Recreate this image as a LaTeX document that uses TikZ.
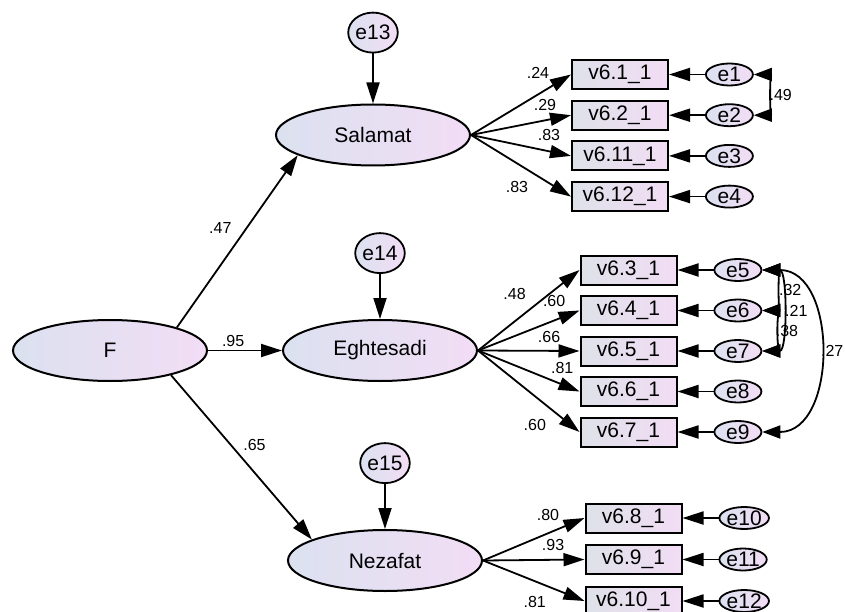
\documentclass[tikz,border=0pt]{standalone}
\usepackage{fontspec}
\setmainfont{Liberation Sans}
\usetikzlibrary{positioning,arrows.meta,shapes}

\definecolor{amosblue}{RGB}{219,225,240}
\definecolor{amospink}{RGB}{242,221,245}
\tikzstyle{latbox}=[ellipse, draw=black, line width=2pt, left color=amosblue, right color=amospink,
minimum width=194pt, minimum height=61pt, inner sep=0pt, font=\fontsize{21}{24}\selectfont]
\tikzstyle{resbox}=[ellipse, draw=black, line width=1.8pt, left color=amosblue, right color=amospink,
minimum width=47pt, minimum height=40pt, inner sep=0pt, font=\fontsize{21}{24}\selectfont]
\tikzstyle{ebox}=[ellipse, draw=black, line width=1.8pt, left color=amosblue, right color=amospink,
minimum width=47pt, minimum height=22pt, inner sep=0pt, font=\fontsize{21}{24}\selectfont]
\tikzstyle{obsbox}=[rectangle, draw=black, line width=2pt, left color=amosblue!80!gray!60, right color=amospink,
minimum width=96pt, minimum height=29pt, inner sep=0pt, font=\fontsize{21}{24}\selectfont]
\tikzstyle{load}=[-{Triangle[length=21pt,width=13pt]}, line width=1.8pt]
\tikzstyle{cov}=[{Triangle[length=18pt,width=13pt]}-{Triangle[length=18pt,width=13pt]}, line width=1.8pt]
\tikzstyle{lbl}=[inner sep=0pt, font=\fontsize{16}{18}\selectfont]

\begin{document}
\begin{tikzpicture}[x=1pt, y=-1pt]

    \useasboundingbox (0,0) rectangle (845,612);

    \node (F) [latbox] at (110,350.5) {F};
    \node (sal) [latbox] at (373,135) {Salamat};
    \node (egh) [latbox] at (380,350.5) {Eghtesadi};
    \node (nez) [latbox] at (385,560.5) {Nezafat};

    \node (e13) [resbox, above=50pt of sal] {e13};
    \node (e14) [resbox, above=45pt of egh] {e14};
    \node (e15) [resbox, above=45pt of nez] {e15};

% SALAMAT
    \node (v61) [obsbox] at (620,74.5) {v6.1\_1};
    \node (v62) [obsbox, below=9.7pt of v61] {v6.2\_1};
    \node (v611) [obsbox, below=9.7pt of v62] {v6.11\_1};
    \node (v612) [obsbox, below=9.7pt of v611] {v6.12\_1};
    \node (e1) [ebox, right=36pt of v61] {e1};
    \node (e2) [ebox, right=36pt of v62] {e2};
    \node (e3) [ebox, right=36pt of v611] {e3};
    \node (e4) [ebox, right=36pt of v612] {e4};
%%%% end SALAMAT

% EGHTESADI
    \node (v63) [obsbox] at (628.5,270) {v6.3\_1};
    \node (v64) [obsbox, below=9.5pt of v63] {v6.4\_1};
    \node (v65) [obsbox, below=9.5pt of v64] {v6.5\_1};
    \node (v66) [obsbox, below=9.5pt of v65] {v6.6\_1};
    \node (v67) [obsbox, below=9.5pt of v66] {v6.7\_1};
    \node (e5) [ebox, right=36pt of v63] {e5};
    \node (e6) [ebox, right=36pt of v64] {e6};
    \node (e7) [ebox, right=36pt of v65] {e7};
    \node (e8) [ebox, right=36pt of v66] {e8};
    \node (e9) [ebox, right=36pt of v67] {e9};
%%%% end EGHTESADI

% NEZAFAT
    \node (v68) [obsbox] at (633.5,518) {v6.8\_1};
    \node (v69) [obsbox, below=10.5pt of v68] {v6.9\_1};
    \node (v610) [obsbox, below=10.5pt of v69] {v6.10\_1};
    \node (e10) [ebox, right=36pt of v68] {e10};
    \node (e11) [ebox, right=36pt of v69] {e11};
    \node (e12) [ebox, right=36pt of v610] {e12};
%%%% end NEZAFAT

%second order
   \draw[load] (F.19) -- node[lbl, midway, xshift=-17pt, yshift=13pt] (lsal) {.47} (sal.195);
   \draw[load] (F.east) -- node[lbl, pos=.34, yshift=10pt] (legh) {.95} (egh.west);
   \draw[load] (F.-22) -- node[lbl, midway, xshift=13pt, yshift=12pt] (lnez) {.65} (nez.164);
   \draw[load] (e13) -- (sal);
   \draw[load] (e14) -- (egh);
   \draw[load] (e15) -- (nez);

%loadings, label pos and shift
   \draw[load] (sal.east) -- node[lbl, pos=.67, yshift=22pt] (l61) {.24} (v61.west);
   \draw[load] (sal.east) -- node[lbl, pos=.74, yshift=15pt] (l62) {.29} (v62.west);
   \draw[load] (sal.east) -- node[lbl, pos=.78, yshift=16pt] (l611) {.83} (v611.west);
   \draw[load] (sal.east) -- node[lbl, pos=.46, yshift=-24pt] (l612) {.83} (v612.west);

   \draw[load] (egh.east) -- node[lbl, pos=.36, yshift=28pt] (l63) {.48} (v63.west);
   \draw[load] (egh.east) -- node[lbl, pos=.75, yshift=20pt] (l64) {.60} (v64.west);
   \draw[load] (egh.east) -- node[lbl, pos=.70, yshift=14pt] (l65) {.66} (v65.west);
   \draw[load] (egh.east) -- node[lbl, pos=.83, yshift=17pt] (l66) {.81} (v66.west);
   \draw[load] (egh.east) -- node[lbl, pos=.56, yshift=-29pt] (l67) {.60} (v67.west);

   \draw[load] (nez.east) -- node[lbl, pos=.64, yshift=18pt] (l68) {.80} (v68.west);
   \draw[load] (nez.east) -- node[lbl, pos=.69, yshift=15pt] (l69) {.93} (v69.west);
   \draw[load] (nez.east) -- node[lbl, pos=.51, yshift=-21pt] (l610) {.81} (v610.west);

%errors
   \draw[load] (e1) -- (v61);
   \draw[load] (e2) -- (v62);
   \draw[load] (e3) -- (v611);
   \draw[load] (e4) -- (v612);
   \draw[load] (e5) -- (v63);
   \draw[load] (e6) -- (v64);
   \draw[load] (e7) -- (v65);
   \draw[load] (e8) -- (v66);
   \draw[load] (e9) -- (v67);
   \draw[load] (e10) -- (v68);
   \draw[load] (e11) -- (v69);
   \draw[load] (e12) -- (v610);

%covariances
   \draw[cov] (e1.east) to[out=0, in=0, looseness=1.0] node[lbl, right=3pt] (c12) {.49} (e2.east);
   \draw[cov] (e5.east) to[out=0, in=0, looseness=1.0] node[lbl, right=4pt] (c56) {.32} (e6.east);
   \draw[cov] (e5.east) to[out=0, in=0, looseness=0.8] node[lbl, right=3pt] (c57) {.21} (e7.east);
   \draw[cov] (e6.east) to[out=0, in=0, looseness=0.9] node[lbl, right=2pt] (c67) {.38} (e7.east);
   \draw[cov] (e5.east) to[out=0, in=0, looseness=1.2] node[lbl, right=1pt] (c59) {.27} (e9.east);

\end{tikzpicture}
\end{document}
